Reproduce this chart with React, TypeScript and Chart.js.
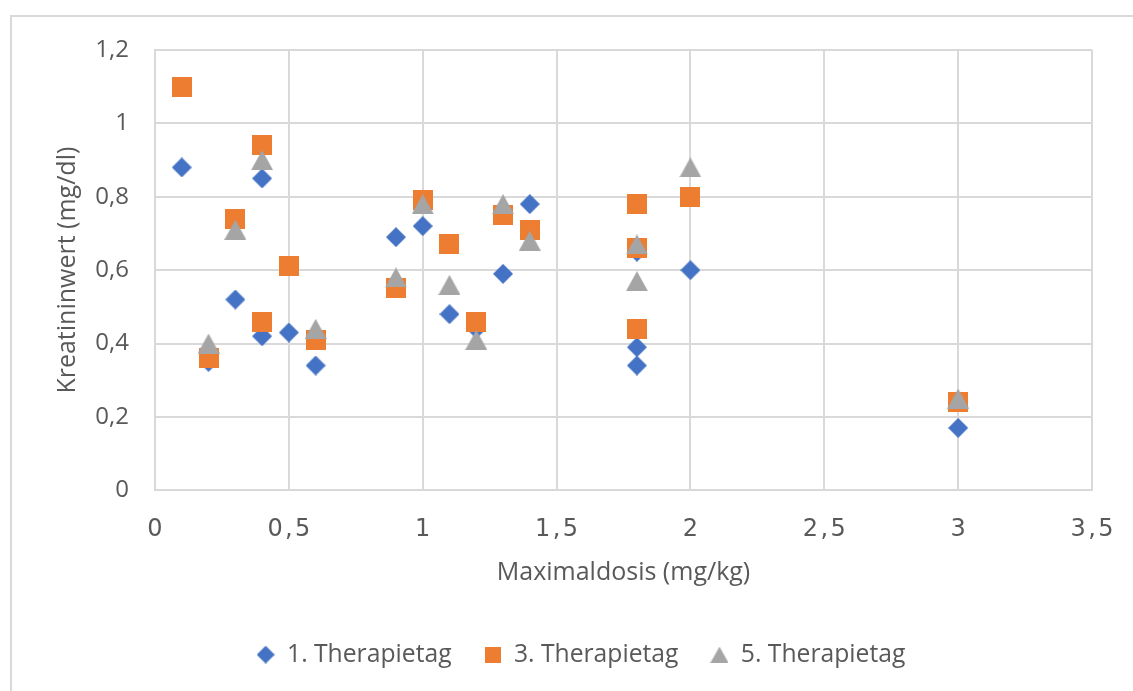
import React, { useEffect, useRef } from "react";
import { Chart, registerables } from "chart.js";

Chart.register(...registerables);

// ---- Data ----
const seriesNames = ["1. Therapietag", "3. Therapietag", "5. Therapietag"];

const day1Dose = [0.1, 0.2, 0.3, 0.4, 0.4, 0.5, 0.6, 0.9, 1.0, 1.1, 1.2, 1.3, 1.4, 1.8, 1.8, 1.8, 2.0, 3.0];
const day1Crea = [0.88, 0.35, 0.52, 0.85, 0.42, 0.43, 0.34, 0.69, 0.72, 0.48, 0.44, 0.59, 0.78, 0.65, 0.39, 0.34, 0.6, 0.17];

const day3Dose = [0.1, 0.2, 0.3, 0.4, 0.4, 0.5, 0.6, 0.9, 1.0, 1.1, 1.2, 1.3, 1.4, 1.8, 1.8, 1.8, 2.0, 3.0];
const day3Crea = [1.1, 0.36, 0.74, 0.94, 0.46, 0.61, 0.41, 0.55, 0.79, 0.67, 0.46, 0.75, 0.71, 0.78, 0.66, 0.44, 0.8, 0.24];

const day5Dose = [0.2, 0.3, 0.4, 0.6, 0.9, 1.0, 1.1, 1.2, 1.3, 1.4, 1.8, 1.8, 2.0, 3.0];
const day5Crea = [0.4, 0.71, 0.9, 0.44, 0.58, 0.78, 0.56, 0.41, 0.78, 0.68, 0.67, 0.57, 0.88, 0.25];

const yTickLabels = ["0", "0,2", "0,4", "0,6", "0,8", "1", "1,2"];
const xTickLabels = [
  "0",
  "0\u200A,\u200A5",
  "1",
  "1\u200A,\u200A5",
  "2",
  "2\u200A,\u200A5",
  "3",
  "3\u200A,\u200A5",
];
const xAxisTitle = "Maximaldosis (mg/kg)";
const yAxisTitle = "Kreatininwert (mg/dl)";

const colors = ["#4472C4", "#ED7D31", "#A5A5A5"];

function makeMarker(shape: string, w: number, h: number, fill: string): HTMLCanvasElement {
  const c = document.createElement("canvas");
  c.width = w;
  c.height = h;
  const ctx = c.getContext("2d")!;
  ctx.fillStyle = fill;
  ctx.beginPath();
  if (shape === "diamond") {
    ctx.moveTo(w / 2, 0);
    ctx.lineTo(w, h / 2);
    ctx.lineTo(w / 2, h);
    ctx.lineTo(0, h / 2);
  } else if (shape === "square") {
    ctx.rect(0, 0, w, h);
  } else {
    ctx.moveTo(w / 2, 0);
    ctx.lineTo(w, h);
    ctx.lineTo(0, h);
  }
  ctx.closePath();
  ctx.fill();
  return c;
}

// shifts the legend horizontally so that it sits where the reference puts it
const legendShift = {
  id: "legendShift",
  afterLayout(chart: any) {
    const lg = chart.legend;
    if (!lg) return;
    const d = 35;
    lg.left += d;
    lg.right += d;
  },
};

export default function App() {
  const canvasRef = useRef<HTMLCanvasElement | null>(null);

  useEffect(() => {
    if (!canvasRef.current) return;
    const dataMarkers = [
      makeMarker("diamond", 20, 20, colors[0]),
      makeMarker("square", 20, 20, colors[1]),
      makeMarker("triangle", 22, 20, colors[2]),
    ];
    const legendMarkers = [
      makeMarker("diamond", 18, 18, colors[0]),
      makeMarker("square", 16, 16, colors[1]),
      makeMarker("triangle", 18, 16, colors[2]),
    ];
    const toPoints = (xs: number[], ys: number[]) => xs.map((x, i) => ({ x, y: ys[i] }));

    const textColor = "#595959";
    const gridColor = "#d9d9d9";

    const chart = new Chart(canvasRef.current, {
      type: "scatter",
      plugins: [legendShift],
      data: {
        datasets: [
          {
            label: seriesNames[0],
            data: toPoints(day1Dose, day1Crea),
            pointStyle: dataMarkers[0] as any,
            backgroundColor: colors[0],
            borderColor: colors[0],
            order: 3,
          },
          {
            label: seriesNames[1],
            data: toPoints(day3Dose, day3Crea),
            pointStyle: dataMarkers[1] as any,
            backgroundColor: colors[1],
            borderColor: colors[1],
            order: 2,
          },
          {
            label: seriesNames[2],
            data: toPoints(day5Dose, day5Crea),
            pointStyle: dataMarkers[2] as any,
            backgroundColor: colors[2],
            borderColor: colors[2],
            order: 1,
          },
        ],
      },
      options: {
        animation: false,
        responsive: false,
        maintainAspectRatio: false,
        layout: { padding: { left: 0, top: 50, right: 41, bottom: 14 } },
        plugins: {
          tooltip: { enabled: false },
          legend: {
            position: "bottom",
            labels: {
              usePointStyle: true,
              boxWidth: 18,
              boxHeight: 18,
              padding: 32,
              color: textColor,
              font: { family: "'Open Sans'", size: 24.7 },
              sort: (a: any, b: any) => a.datasetIndex - b.datasetIndex,
              generateLabels: (ch: any) => {
                const items = (Chart.defaults.plugins.legend.labels as any).generateLabels(ch);
                items.forEach((it: any) => {
                  it.pointStyle = legendMarkers[it.datasetIndex];
                });
                return items;
              },
            },
          },
        },
        scales: {
          x: {
            type: "linear",
            min: 0,
            max: 3.5,
            afterFit: (scale: any) => {
              scale.height = 120;
              scale.paddingLeft = 0;
              scale.paddingRight = 0;
            },
            ticks: {
              stepSize: 0.5,
              padding: 25,
              color: textColor,
              font: { family: "'DejaVu Sans'", size: 24 },
              maxRotation: 0,
              callback: (_v: any, i: number) => xTickLabels[i],
            },
            grid: { color: gridColor, lineWidth: 2, drawTicks: false },
            border: { color: gridColor, width: 2 },
            title: {
              display: true,
              text: xAxisTitle,
              color: textColor,
              font: { family: "'Open Sans'", size: 25 },
              padding: { top: 0, bottom: 22 },
            },
          },
          y: {
            type: "linear",
            min: 0,
            max: 1.2,
            afterFit: (scale: any) => {
              scale.width = 155;
              scale.paddingTop = 0;
              scale.paddingBottom = 0;
            },
            ticks: {
              stepSize: 0.2,
              padding: 26,
              color: textColor,
              font: { family: "'Open Sans'", size: 24 },
              callback: (_v: any, i: number) => yTickLabels[i],
            },
            grid: { color: gridColor, lineWidth: 2, drawTicks: false },
            border: { color: gridColor, width: 2 },
            title: {
              display: true,
              text: yAxisTitle,
              color: textColor,
              font: { family: "'Open Sans'", size: 25 },
              padding: { top: 53, bottom: 0 },
            },
          },
        },
      },
    });
    return () => chart.destroy();
  }, []);

  return (
    <div
      style={{
        position: "absolute",
        left: 0,
        top: 0,
        width: 1133,
        height: 691,
        overflow: "hidden",
        background: "#ffffff",
      }}
    >
      <div
        style={{
          position: "absolute",
          left: 10,
          top: 15,
          width: 1300,
          height: 900,
          border: "2px solid #d9d9d9",
          boxSizing: "border-box",
        }}
      />
      <canvas
        ref={canvasRef}
        width={1133}
        height={691}
        style={{ position: "absolute", left: 0, top: 0, width: 1133, height: 691 }}
      />
    </div>
  );
}
